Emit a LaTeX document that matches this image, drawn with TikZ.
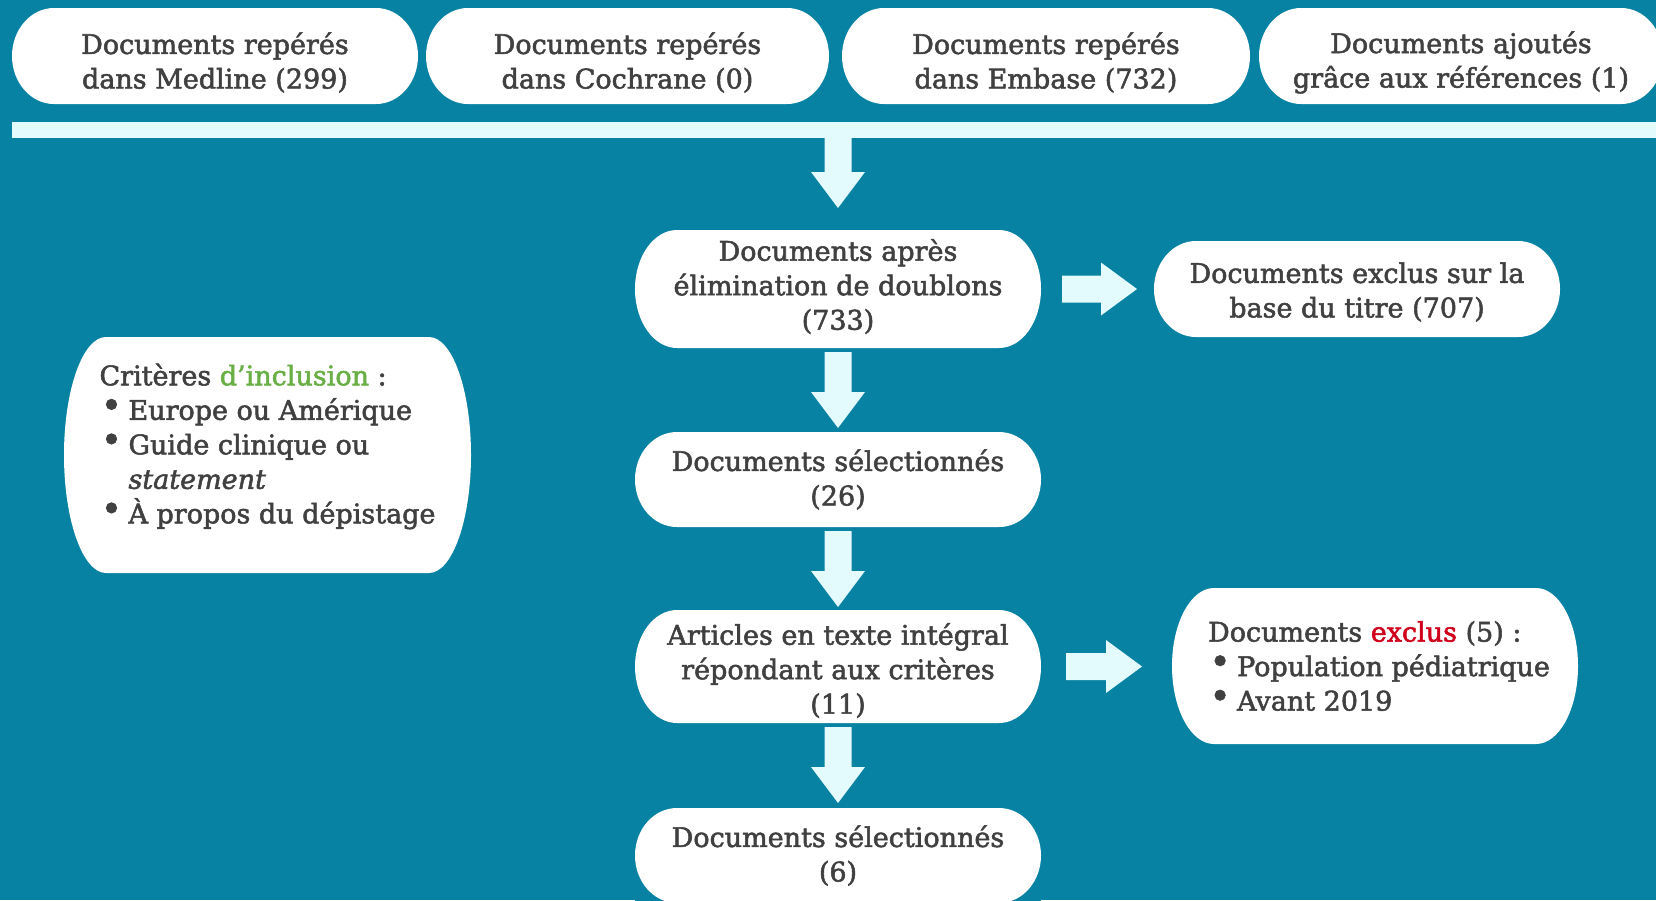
\documentclass[tikz,border=0pt]{standalone}
\usepackage{fontspec}
\setmainfont{DejaVu Serif}[FakeBold=2]
\usetikzlibrary{calc}
\definecolor{bg}{HTML}{0882A3}
\definecolor{arrc}{HTML}{E3FBFD}
\definecolor{txt}{HTML}{404040}
\definecolor{grn}{HTML}{6AAF45}
\definecolor{rd}{HTML}{D0021B}
\newcommand\bul{\makebox[24pt][c]{\raisebox{2pt}[0pt][0pt]{\fontsize{36}{36}\selectfont •}}\hspace*{5pt}}
\newcommand\varrow[4]{\fill[arrc] let \p1=(#1.south), \p2=(#2.north) in
  (\x2-13.5pt,\y1-#3) -- (\x2+13.5pt,\y1-#3) -- (\x2+13.5pt,\y2+#4+36pt) -- (\x2+27pt,\y2+#4+36pt)
  -- (\x2,\y2+#4) -- (\x2-27pt,\y2+#4+36pt) -- (\x2-13.5pt,\y2+#4+36pt) -- cycle;}
\newcommand\harrow[4]{\fill[arrc] let \p1=(#1.east), \p2=(#2.west) in
  (\x1+#3,\y1-13.5pt) -- (\x2-#4-36pt,\y1-13.5pt) -- (\x2-#4-36pt,\y1-26.5pt) -- (\x2-#4,\y1)
  -- (\x2-#4-36pt,\y1+26.5pt) -- (\x2-#4-36pt,\y1+13.5pt) -- (\x1+#3,\y1+13.5pt) -- cycle;}
\tikzset{
  pill/.style={rectangle, inner sep=0pt, outer sep=0pt, fill=bg,
    path picture={\fill[white] let \p1=(path picture bounding box.south west),
      \p2=(path picture bounding box.north east) in
      (\x1+42pt,\y1) -- (\x2-42pt,\y1) arc[start angle=-90,end angle=90,x radius=42pt,y radius={(\y2-\y1)/2}]
      -- (\x1+42pt,\y2) arc[start angle=90,end angle=270,x radius=42pt,y radius={(\y2-\y1)/2}] -- cycle;}},
  lbl/.style={inner sep=0pt, align=center, text=txt, font=\fontsize{27}{34.5}\selectfont},
  band/.style={rectangle, inner sep=0pt, outer sep=0pt, fill=arrc}
}
\begin{document}
\begin{tikzpicture}[x=1pt,y=-1pt]
\fill[bg] (0,0) rectangle (1656,900);
\useasboundingbox (0,0) rectangle (1656,900);
\node[pill, minimum width=406pt, minimum height=96pt,
  label={[lbl, yshift=-6.5pt]center:{Documents repérés\\dans Medline (299)}}] (t1) at (215,56) {};
\node[pill, minimum width=403pt, minimum height=96pt,
  label={[lbl, yshift=-6.5pt]center:{Documents repérés\\dans Cochrane (0)}}] (t2) at (627.5,56) {};
\node[pill, minimum width=408pt, minimum height=96pt,
  label={[lbl, yshift=-6.5pt]center:{Documents repérés\\dans Embase (732)}}] (t3) at (1046,56) {};
\node[pill, minimum width=404pt, minimum height=96pt,
  label={[lbl, yshift=-6.5pt]center:{Documents ajoutés\\grâce aux références (1)}}] (t4) at (1461,56) {};
\node[band, minimum width=1650pt, minimum height=16pt] (band) at (837,130) {};
\node[pill, minimum width=406pt, minimum height=118pt,
  label={[lbl, yshift=2.5pt]center:{Documents après\\élimination de doublons\\(733)}}] (A) at (838,289) {};
\node[pill, minimum width=406pt, minimum height=96pt,
  label={[lbl, yshift=-3pt]center:{Documents exclus sur la\\base du titre (707)}}] (B) at (1357,289) {};
\node[pill, minimum width=406pt, minimum height=95pt,
  label={[lbl]center:{Documents sélectionnés\\(26)}}] (C) at (838,479.5) {};
\node[pill, minimum width=406pt, minimum height=113pt,
  label={[lbl, yshift=-4pt]center:{Articles en texte intégral\\répondant aux critères\\(11)}}] (D) at (838,666.5) {};
\node[pill, minimum width=406pt, minimum height=95pt,
  label={[lbl]center:{Documents sélectionnés\\(6)}}] (E) at (838,855.5) {};
\node[pill, minimum width=406pt, minimum height=156pt,
  label={[lbl, align=left, xshift=4pt]center:{Documents \textcolor{rd}{exclus} (5) :\\\bul Population pédiatrique\\\bul Avant 2019}}] (F) at (1375,666) {};
\node[pill, minimum width=407pt, minimum height=236pt,
  label={[lbl, align=left, yshift=8.5pt]center:{Critères \textcolor{grn}{d'inclusion} :\\\bul Europe ou Amérique\\\bul Guide clinique ou\\\hspace*{29pt}\textit{statement}\\\bul À propos du dépistage}}] (G) at (267.5,455) {};
\varrow{band}{A}{0pt}{22pt}
\varrow{A}{C}{4pt}{4pt}
\varrow{C}{D}{4pt}{3pt}
\varrow{D}{E}{4pt}{5pt}
\harrow{A}{B}{21pt}{17pt}
\harrow{D}{F}{25pt}{30pt}
\end{tikzpicture}
\end{document}
